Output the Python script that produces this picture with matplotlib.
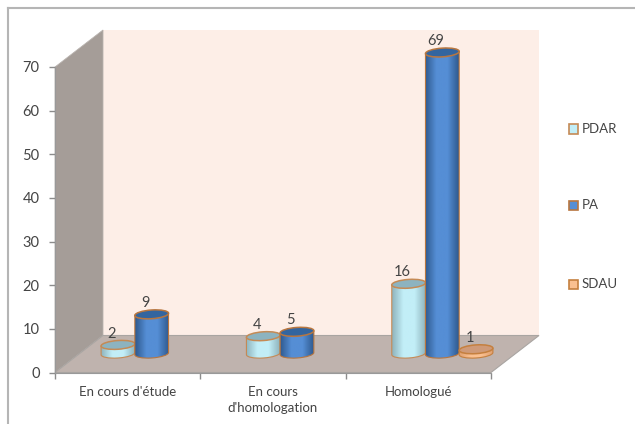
import matplotlib
matplotlib.use('Agg')
import matplotlib.pyplot as plt
import numpy as np
from matplotlib.lines import Line2D
from matplotlib.patches import Polygon, PathPatch, Rectangle
from matplotlib.path import Path

categories = ["En cours d'étude", "En cours\nd'homologation", "Homologué"]
series_names = ['PDAR', 'PA', 'SDAU']
pdar = [2, 4, 16]
pa = [9, 5, 69]
sdau = [None, None, 1]
y_ticks = [0, 10, 20, 30, 40, 50, 60, 70]

# colours: edge of the shaft, lit middle, dark side, top face
styles = {
    'PDAR': dict(side='#8fb4bd', mid='#c2eef7', top='#8db3bf', edge='#c58a55'),
    'PA': dict(side='#2f5a8f', mid='#558ed5', top='#33659f', edge='#b8763f'),
    'SDAU': dict(side='#e0a070', mid='#fac090', top='#cf9a78', edge='#c5803f'),
}

plt.rcParams['font.family'] = ['Lato', 'DejaVu Sans']
text_col = '#444444'

W, H = 635, 424
fig = plt.figure(figsize=(W / 100, H / 100), dpi=100)
fig.patch.set_facecolor('white')
# the frame only shows on the top and left, the picture is cropped
fig.add_artist(Line2D([8 / W, 1], [1 - 8 / H, 1 - 8 / H], color='#b5b5b5', lw=1.5))
fig.add_artist(Line2D([8 / W, 8 / W], [0, 1 - 8 / H], color='#b5b5b5', lw=1.5))

# axes is the front plane of the 3d box
left, right, bottom, top = 55, 491, 372.5, 67
ax = fig.add_axes([left / W, 1 - bottom / H, (right - left) / W, (bottom - top) / H])
ax.set_xlim(0, 3)
ax.set_ylim(0, 70)
ax.patch.set_alpha(0)

dx = 48 / (right - left) * 3
dy = 37 / (bottom - top) * 70

# walls
ax.add_patch(Polygon([(dx, dy), (3 + dx, dy), (3 + dx, 70 + dy), (dx, 70 + dy)],
                     fc='#fdeee7', ec='none', clip_on=False, zorder=1))
ax.add_patch(Polygon([(0, 0), (dx, dy), (dx, 70 + dy), (0, 70)],
                     fc='#a59d98', ec='#b9b3af', lw=0.6, clip_on=False, zorder=1))
ax.add_patch(Polygon([(0, 0), (3, 0), (3 + dx, dy), (dx, dy)],
                     fc='#bfb3ae', ec='#a9a5a2', lw=0.8, clip_on=False, zorder=1))

width = 0.232
ell = 1.0
base = dy * 0.51
k = 0.5523
# ellipses lean up to the right
tilt = 0.5 / width


def ellipse_path(cx, cy):
    a, b = width / 2, ell
    verts = [(cx - a, cy), (cx - a, cy + k * b), (cx - k * a, cy + b), (cx, cy + b),
             (cx + k * a, cy + b), (cx + a, cy + k * b), (cx + a, cy),
             (cx + a, cy - k * b), (cx + k * a, cy - b), (cx, cy - b),
             (cx - k * a, cy - b), (cx - a, cy - k * b), (cx - a, cy), (cx - a, cy)]
    verts = [(x, y + tilt * (x - cx)) for x, y in verts]
    codes = [Path.MOVETO] + [Path.CURVE4] * 12 + [Path.CLOSEPOLY]
    return Path(verts, codes)


def shaft_path(cx, y0, y1):
    a, b = width / 2, ell
    verts = [(cx - a, y1), (cx - a, y0), (cx - a, y0 - k * b), (cx - k * a, y0 - b), (cx, y0 - b),
             (cx + k * a, y0 - b), (cx + a, y0 - k * b), (cx + a, y0),
             (cx + a, y1), (cx - a, y1)]
    verts = [(x, y + tilt * (x - cx)) for x, y in verts]
    codes = [Path.MOVETO, Path.LINETO] + [Path.CURVE4] * 6 + [Path.LINETO, Path.CLOSEPOLY]
    return Path(verts, codes)


def cylinder(cx, value, st, z):
    y0, y1 = base, base + value
    ax.add_patch(PathPatch(shaft_path(cx, y0, y1), fc='none', ec=st['edge'], lw=0.8, clip_on=False, zorder=z + 0.2))
    cmap = matplotlib.colors.LinearSegmentedColormap.from_list('c', [st['side'], st['mid'], st['mid'], st['side']])
    im = ax.imshow(np.linspace(0, 1, 64).reshape(1, -1), cmap=cmap, aspect='auto',
                   extent=(cx - width / 2, cx + width / 2, y0 - ell - 1, y1 + 1), zorder=z)
    im.set_clip_box(fig.bbox)
    im.set_clip_path(PathPatch(shaft_path(cx, y0, y1), transform=ax.transData))
    ax.add_patch(PathPatch(ellipse_path(cx, y1), fc=st['top'], ec=st['edge'], lw=1.1, clip_on=False, zorder=z + 0.3))
    ax.text(cx - 0.045, y1 + 1.0, f'{value}', ha='center', va='bottom', fontsize=10.5, color=text_col,
            clip_on=False, zorder=10)


# bars, group centre sits halfway into the floor depth
order = [(pdar, 'PDAR', -1), (pa, 'PA', 0), (sdau, 'SDAU', 1)]
for vals, name, off in order:
    for i, v in enumerate(vals):
        if v is None:
            continue
        cx = i + 0.5 + dx * 0.5 + off * width
        cylinder(cx, v, styles[name], 3 + off * 0.5)

ax.set_xticks([0, 1, 2, 3])
ax.set_xticklabels([])
ax.set_yticks(y_ticks)
ax.tick_params(axis='both', color='#8c8c8c', length=4, width=1, labelsize=10.5, labelcolor=text_col)
ax.tick_params(axis='y', pad=7)
for s in ['top', 'right']:
    ax.spines[s].set_visible(False)
ax.spines['left'].set_color('#999999')
ax.spines['bottom'].set_color('#999999')
ax.set_ylim(0, 70)
ax.set_xlim(0, 3)

for i, c in enumerate(categories):
    ax.text(i + 0.5, -3.1, c, ha='center', va='top', fontsize=9.5, color=text_col, linespacing=1.4, clip_on=False)

# legend drawn by hand, it sits in a tall column
leg_y = [129, 205, 284]
for name, y in zip(series_names, leg_y):
    st = styles[name]
    fig.add_artist(Rectangle((568.5 / W, 1 - (y + 4.5) / H), 9 / W, 9 / H, transform=fig.transFigure,
                             fc=st['mid'], ec=st['edge'], lw=1.2))
    fig.text(582 / W, 1 - y / H, name, va='center', ha='left', fontsize=9.5, color=text_col)

fig.savefig('out.png', dpi=100)
